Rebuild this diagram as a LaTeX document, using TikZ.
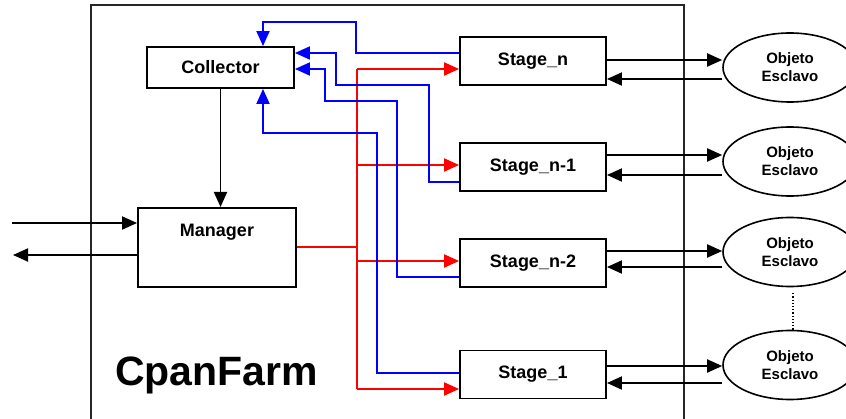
\documentclass[tikz,border=0pt]{standalone}
\usepackage{fontspec}
\setmainfont{Liberation Sans}
\usetikzlibrary{arrows.meta, positioning, shapes.geometric}
\definecolor{wireRed}{HTML}{FF0000}
\definecolor{wireBlue}{HTML}{0000FF}
\tikzset{
  arrowK/.style={-{Triangle[length=15pt, width=13pt]}, black, line width=1.9pt},
  arrowR/.style={-{Triangle[length=15pt, width=13pt]}, wireRed, line width=1.9pt},
  arrowB/.style={-{Triangle[length=15pt, width=13pt]}, wireBlue, line width=1.9pt},
  wireR/.style={wireRed, line width=1.9pt},
  boxS/.style={rectangle, draw=black, fill=white, line width=1.9pt, align=center,
               font=\bfseries\fontsize{18}{20}\selectfont, inner sep=0pt},
  boxSlave/.style={ellipse, draw=black, fill=white, line width=1.6pt, align=center,
               font=\bfseries\fontsize{15}{18}\selectfont, inner sep=0pt,
               minimum width=134pt, minimum height=69pt},
}

\begin{document}
\begin{tikzpicture}[x=1pt, y=-1pt]
    \useasboundingbox (0,0) rectangle (846,419);
    % farm frame
    \draw[line width=2pt, black!85] (91,425) -- (91,5) -- (684,5) -- (684,425);
    \node[boxS, minimum width=147pt, minimum height=41pt] (col) at (220.5,67.5) {Collector};
    \node[boxS, minimum width=158pt, text height=13pt, text depth=35pt, inner ysep=15.5pt,
          anchor=north] (man) at (217,207) {Manager};
    \node[font=\bfseries\fontsize{41}{44}\selectfont, anchor=base] (farm) at (216.5,385) {CpanFarm};
    \node[boxS, minimum width=146pt, minimum height=48pt] (sn) at (533,61) {Stage\_n};
    \node[boxS, minimum width=146pt, minimum height=48pt] (sn1) at (533,167) {Stage\_n-1};
    \node[boxS, minimum width=146pt, minimum height=48pt] (sn2) at (533,263) {Stage\_n-2};
    \node[boxS, minimum width=146pt, minimum height=48pt] (s1) at (533,374.5) {Stage\_1};
    \node[boxSlave] (on) at (790,67.5) {Objeto\\Esclavo};
    \node[boxSlave] (on1) at (790,161.5) {Objeto\\Esclavo};
    \node[boxSlave] (on2) at (790,252) {Objeto\\Esclavo};
    \node[boxSlave] (o1) at (790,365) {Objeto\\Esclavo};
    \coordinate (in) at (12,223);
    \coordinate (out) at (13,255);
    \coordinate (rtop) at (357,69);
    \coordinate (rbot) at (357,389);
    % manager io
    \draw[arrowK] (in) -- (man.west |- in);
    \draw[arrowK] (man.west |- out) -- (out);
    \draw[arrowK] (col.south) -- (col.south |- man.north);
    % red: manager to stages
    \draw[wireR] (man.east) -- (man.east -| rtop);
    \draw[wireR] (rtop) -- (rbot);
    \draw[arrowR] (rtop) -- (sn.west |- rtop);
    \draw[arrowR] (rtop |- 0,165) -- (sn1.west |- 0,165);
    \draw[arrowR] (rtop |- 0,261) -- (sn2.west |- 0,261);
    \draw[arrowR] (rbot) -- (s1.west |- rbot);
    % blue: stages back to collector
    \draw[arrowB] (sn.west |- 0,53) -- (356,53) -- (356,22) -- (263,22) -- (col.north -| 263,0);
    \draw[arrowB] (sn1.west |- 0,182) -- (429,182) -- (429,85) -- (336,85) -- (336,53) -- (col.east |- 0,53);
    \draw[arrowB] (sn2.west |- 0,277) -- (397,277) -- (397,101) -- (325,101) -- (325,69) -- (col.east |- 0,69);
    \draw[arrowB] (s1.west |- 0,373) -- (377,373) -- (377,133) -- (263,133) -- (col.south -| 263,0);
    % stages and slaves
    \draw[arrowK] (sn.east |- 0,60) -- (on.west |- 0,60);
    \draw[arrowK] (on.west |- 0,79) -- (sn.east |- 0,79);
    \draw[arrowK] (sn1.east |- 0,155) -- (on1.west |- 0,155);
    \draw[arrowK] (on1.west |- 0,175) -- (sn1.east |- 0,175);
    \draw[arrowK] (sn2.east |- 0,251) -- (on2.west |- 0,251);
    \draw[arrowK] (on2.west |- 0,267) -- (sn2.east |- 0,267);
    \draw[arrowK] (s1.east |- 0,366) -- (o1.west |- 0,366);
    \draw[arrowK] (o1.west |- 0,383) -- (s1.east |- 0,383);
    \draw[line width=1.2pt, dotted] (on2.south -| 793,0) ++(0,6) coordinate (d1) -- (o1.north -| 793,0);
  \end{tikzpicture}
\end{document}
